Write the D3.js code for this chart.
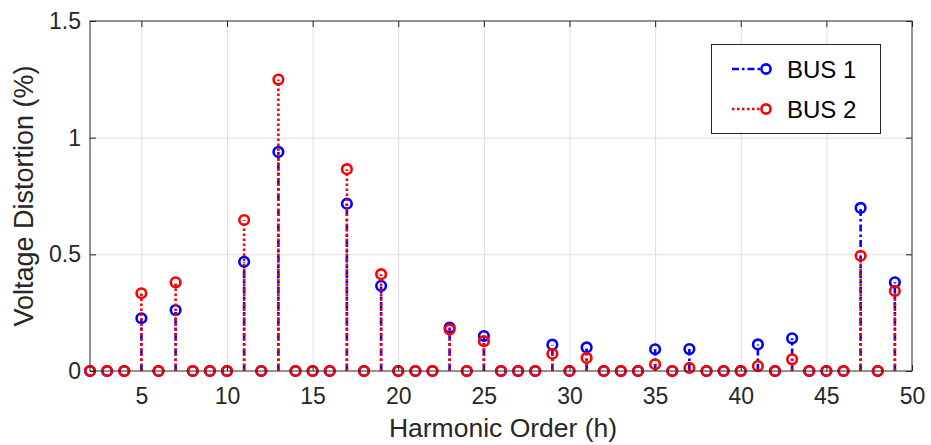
<!DOCTYPE html>
<html>
<head>
<meta charset="utf-8">
<script src="https://cdn.jsdelivr.net/npm/d3@7"></script>
<style>
  html, body { margin: 0; padding: 0; background: #fff; }
  svg { display: block; font-family: "Liberation Sans", Arial, Helvetica, sans-serif; }
  .axis path { display: none; }
  .axis line { stroke: #262626; stroke-width: 1; }
  .axis text { fill: #262626; font-size: 23px; }
  .grid line { stroke: #dedede; stroke-width: 1; }
  .grid path, .grid text { display: none; }
</style>
</head>
<body>
<div id="chart"></div>
<script>
(function () {
  const width = 931;
  const height = 445;
  const margin = { top: 21, right: 19, bottom: 74, left: 90 };

  // harmonic orders on the x axis
  const harmonics = [2, 3, 4, 5, 6, 7, 8, 9, 10, 11, 12, 13, 14, 15, 16, 17, 18, 19, 20, 21, 22, 23, 24, 25,
    26, 27, 28, 29, 30, 31, 32, 33, 34, 35, 36, 37, 38, 39, 40, 41, 42, 43, 44, 45, 46, 47, 48, 49];

  // voltage distortion (%)
  const bus1 = [0, 0, 0, 0.226, 0, 0.261, 0, 0, 0, 0.468, 0, 0.939, 0, 0, 0, 0.717, 0, 0.365, 0, 0, 0, 0.186, 0, 0.150,
    0, 0, 0, 0.113, 0, 0.101, 0, 0, 0, 0.093, 0, 0.094, 0, 0, 0, 0.114, 0, 0.140, 0, 0, 0, 0.699, 0, 0.380];
  const bus2 = [0, 0, 0, 0.333, 0, 0.380, 0, 0, 0, 0.647, 0, 1.249, 0, 0, 0, 0.865, 0, 0.415, 0, 0, 0, 0.178, 0, 0.128,
    0, 0, 0, 0.074, 0, 0.056, 0, 0, 0, 0.029, 0, 0.013, 0, 0, 0, 0.021, 0, 0.050, 0, 0, 0, 0.494, 0, 0.343];

  const xTicks = [5, 10, 15, 20, 25, 30, 35, 40, 45, 50];
  const yTicks = [0, 0.5, 1, 1.5];

  const seriesNames = ["BUS 1", "BUS 2"];
  const seriesColors = ["#0000ff", "#ff0000"];
  const seriesDash = ["7,3,2.5,3", "2.5,2.5"];
  const lineW = 2.6;

  const innerW = width - margin.left - margin.right;
  const innerH = height - margin.top - margin.bottom;

  const x = d3.scaleLinear().domain([2, 50]).range([0, innerW]);
  const y = d3.scaleLinear().domain([0, 1.5]).range([innerH, 0]);

  const svg = d3.select("#chart")
    .append("svg")
    .attr("width", width)
    .attr("height", height);

  const plot = svg.append("g")
    .attr("transform", `translate(${margin.left},${margin.top})`);

  // grid
  plot.append("g")
    .attr("class", "grid")
    .attr("transform", `translate(0,${innerH})`)
    .call(d3.axisBottom(x).tickValues(xTicks.filter((t) => t < 50)).tickSize(-innerH).tickFormat(""));

  plot.append("g")
    .attr("class", "grid")
    .call(d3.axisLeft(y).tickValues(yTicks.filter((t) => t > 0 && t < 1.5)).tickSize(-innerW).tickFormat(""));

  // stems, one series at a time so the red one sits on top
  const series = [bus1, bus2];
  series.forEach((values, si) => {
    const g = plot.append("g").attr("class", "stem-series");
    const pts = harmonics.map((h, i) => ({ h, v: values[i] }));

    g.selectAll("line")
      .data(pts.filter((d) => d.v > 0))
      .join("line")
      .attr("x1", (d) => x(d.h))
      .attr("x2", (d) => x(d.h))
      .attr("y1", y(0))
      .attr("y2", (d) => y(d.v))
      .attr("stroke", seriesColors[si])
      .attr("stroke-width", lineW)
      .attr("stroke-dasharray", seriesDash[si]);

    g.selectAll("circle")
      .data(pts)
      .join("circle")
      .attr("cx", (d) => x(d.h))
      .attr("cy", (d) => y(d.v))
      .attr("r", 4.8)
      .attr("fill", "none")
      .attr("stroke", seriesColors[si])
      .attr("stroke-width", lineW);
  });

  // axes with inward ticks
  plot.append("g")
    .attr("class", "axis")
    .attr("transform", `translate(0,${innerH})`)
    .call(d3.axisBottom(x).tickValues(xTicks).tickSize(-6).tickPadding(16.5).tickFormat(d3.format("d")));

  plot.append("g")
    .attr("class", "axis")
    .call(d3.axisLeft(y).tickValues(yTicks).tickSize(-6).tickPadding(9).tickFormat((d) => d));

  plot.append("g")
    .attr("class", "axis")
    .call(d3.axisTop(x).tickValues(xTicks).tickSize(-6).tickFormat(""));

  plot.append("g")
    .attr("class", "axis")
    .attr("transform", `translate(${innerW},0)`)
    .call(d3.axisRight(y).tickValues(yTicks).tickSize(-6).tickFormat(""));

  plot.append("rect")
    .attr("width", innerW)
    .attr("height", innerH)
    .attr("fill", "none")
    .attr("stroke", "#262626")
    .attr("stroke-width", 1);

  // axis titles
  svg.append("text")
    .attr("x", margin.left + innerW / 2 + 2)
    .attr("y", 437)
    .attr("text-anchor", "middle")
    .attr("fill", "#262626")
    .style("font-size", "26.5px")
    .text("Harmonic Order (h)");

  svg.append("text")
    .attr("transform", `translate(33,${margin.top + innerH / 2}) rotate(-90)`)
    .attr("text-anchor", "middle")
    .attr("fill", "#262626")
    .style("font-size", "27px")
    .text("Voltage Distortion (%)");

  // legend
  const legend = svg.append("g").attr("transform", "translate(711,44)");
  legend.append("rect")
    .attr("x", 0.5)
    .attr("y", 0.5)
    .attr("width", 169)
    .attr("height", 89)
    .attr("fill", "#fff")
    .attr("stroke", "#262626")
    .attr("stroke-width", 1);

  const rows = legend.selectAll("g.row")
    .data(seriesNames)
    .join("g")
    .attr("class", "row")
    .attr("transform", (d, i) => `translate(0,${25 + i * 40})`);

  rows.append("line")
    .attr("x1", 21)
    .attr("x2", 54)
    .attr("stroke", (d, i) => seriesColors[i])
    .attr("stroke-width", lineW)
    .attr("stroke-dasharray", (d, i) => seriesDash[i]);

  rows.append("circle")
    .attr("cx", 55)
    .attr("r", 4.6)
    .attr("fill", "#fff")
    .attr("stroke", (d, i) => seriesColors[i])
    .attr("stroke-width", lineW);

  rows.append("text")
    .attr("x", 76)
    .attr("dy", "0.36em")
    .attr("fill", "#000")
    .style("font-size", "24px")
    .text((d) => d);
}());
</script>
</body>
</html>
